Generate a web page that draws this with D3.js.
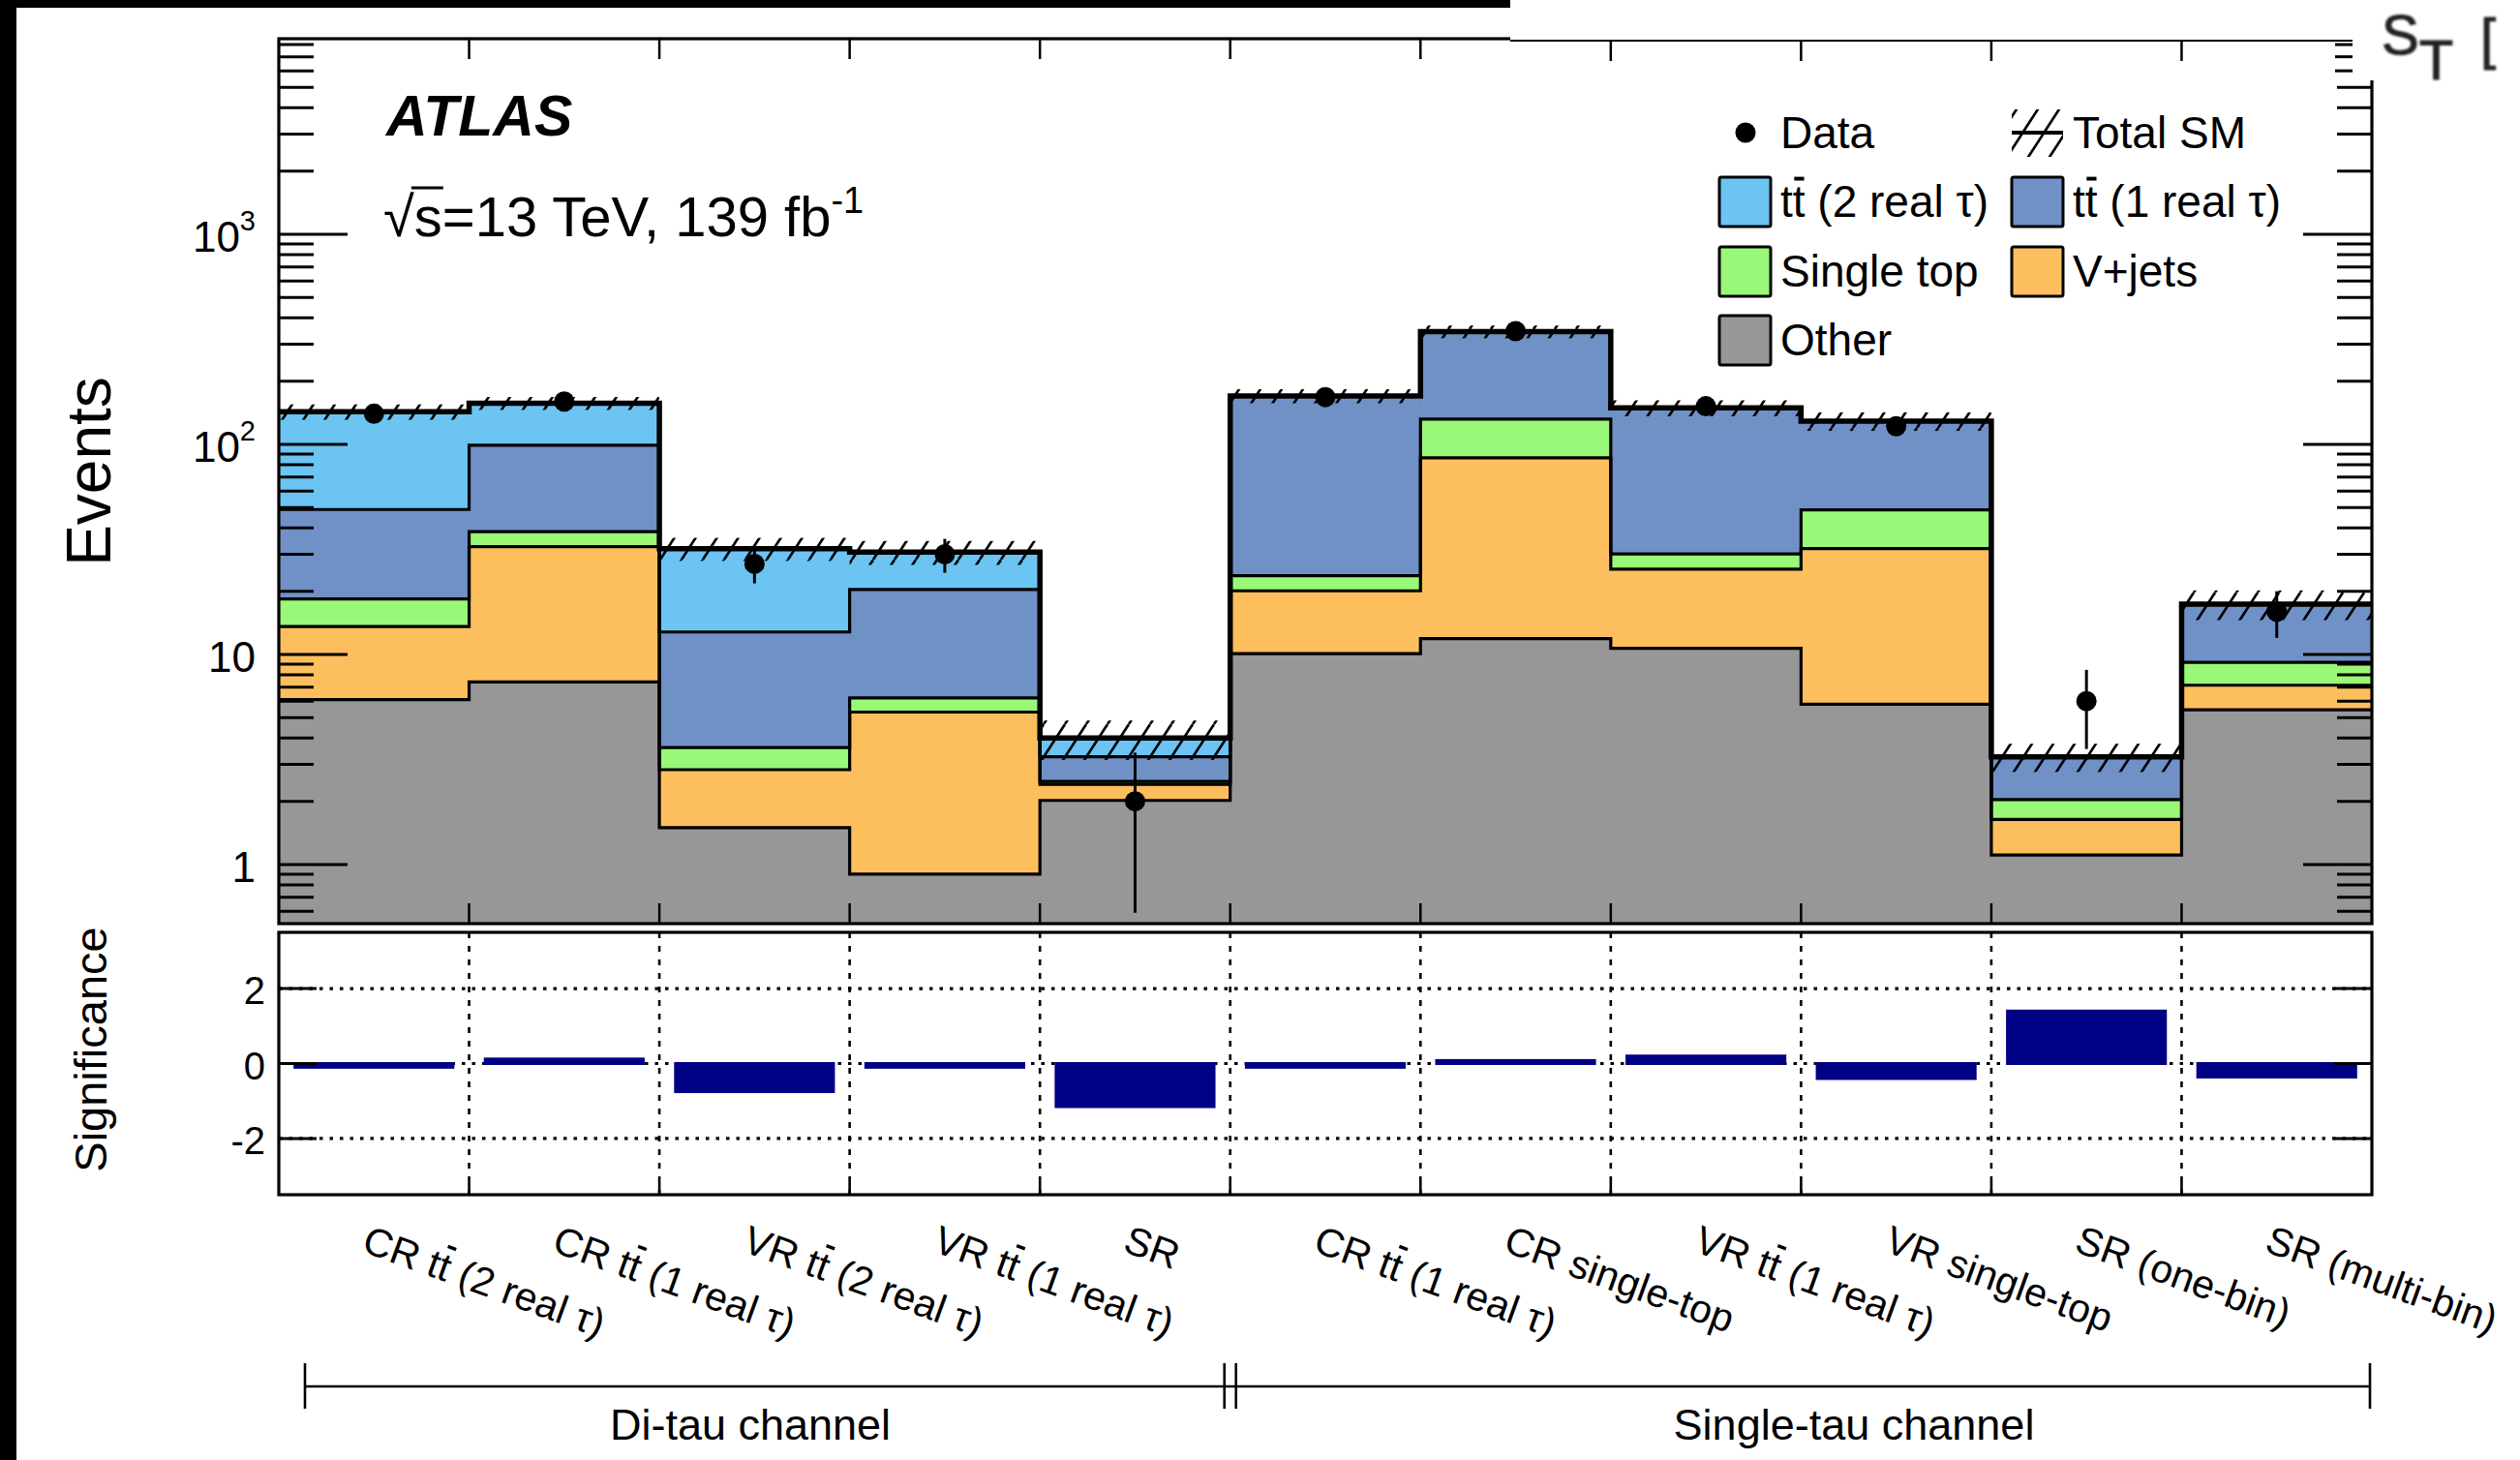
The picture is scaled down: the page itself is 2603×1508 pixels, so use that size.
<!DOCTYPE html>
<html>
<head>
<meta charset="utf-8">
<script src="https://cdn.jsdelivr.net/npm/d3@7"></script>
<style>
  html, body { margin: 0; padding: 0; background: #fff; }
  svg { display: block; }
  text { font-family: "Liberation Sans", Arial, Helvetica, sans-serif; fill: #000; }
</style>
</head>
<body>
<svg id="chart" width="2603" height="1508"></svg>
<script>
// ---- data -------------------------------------------------------------
// region names (U+0304 marks an overlined letter, i.e. t-bar)
const binLabels = [
  "CR tt\u0304 (2 real \u03c4)",
  "CR tt\u0304 (1 real \u03c4)",
  "VR tt\u0304 (2 real \u03c4)",
  "VR tt\u0304 (1 real \u03c4)",
  "SR",
  "CR tt\u0304 (1 real \u03c4)",
  "CR single-top",
  "VR tt\u0304 (1 real \u03c4)",
  "VR single-top",
  "SR (one-bin)",
  "SR (multi-bin)"
];
const channelNames = ["Di-tau channel", "Single-tau channel"];

// background yields per region (stacked, bottom to top)
const other     = [6.1, 7.4, 1.5, 0.9, 2.02, 10.1, 11.9, 10.7, 5.8, 1.11, 5.45];
const vjets     = [7.5, 25.2, 1.33, 4.42, 0.39, 10.0, 74.4, 14.8, 26.1, 0.53, 1.69];
const singleTop = [4.8, 5.8, 0.78, 0.89, 0.08, 3.6, 45.7, 4.6, 16.9, 0.40, 2.04];
const ttbar1    = [30.6, 60.8, 9.19, 14.19, 0.77, 146.3, 212, 119, 80.2, 1.22, 8.2];
const ttbar2    = [94, 57.8, 19.1, 10.3, 0.74, 0, 0, 0, 0, 0, 0];
// total SM uncertainty (absolute)
const totalUnc  = [12, 11, 4, 4, 0.85, 13, 24, 13, 13, 0.5, 2.8];
// observed events and their errors
const observed  = [140, 160, 27, 30, 2, 168, 346, 152, 122, 6, 16];
const obsErr    = [11.8, 12.6, 5.2, 5.5, 1.41, 13.0, 18.6, 12.3, 11.0, 2.45, 4.0];
// significance of data vs. SM per region
const significance = [-0.1, 0.12, -0.75, -0.1, -1.15, -0.1, 0.08, 0.2, -0.4, 1.4, -0.36];

const yMajorTicks = [1, 10, 100, 1000];
const yMajorExp   = [null, null, "2", "3"];
const ratioTicks  = [-2, 0, 2];
const ratioTickLabels = ["-2", "0", "2"];

const sampleKeys   = ["other", "vjets", "singleTop", "ttbar1", "ttbar2"];
const sampleColors = ["#979797", "#fdbf5e", "#99f877", "#7091c6", "#6cc4f2"];

// legend entries
const legendRows = [
  [{type: "data", label: "Data"}, {type: "band", label: "Total SM"}],
  [{type: "box", key: "ttbar2", label: "tt\u0304 (2 real \u03c4)"}, {type: "box", key: "ttbar1", label: "tt\u0304 (1 real \u03c4)"}],
  [{type: "box", key: "singleTop", label: "Single top"}, {type: "box", key: "vjets", label: "V+jets"}],
  [{type: "box", key: "other", label: "Other"}]
];

// ---- layout -------------------------------------------------------------
const svg = d3.select("#chart");
const main  = {left: 288, right: 2450, top: 40, bottom: 954};
const lower = {top: 963, bottom: 1234};
const nBins = binLabels.length;

const x  = d3.scaleLinear().domain([0, nBins]).range([main.left, main.right]);
const y  = d3.scaleLog().domain([0.5236, 8530]).range([main.bottom, main.top]);
const yR = d3.scaleLinear().domain([-3.5, 3.5]).range([lower.bottom, lower.top]);
const yMin = y.domain()[0];
const yy = v => y(Math.max(v, yMin));

const defs = svg.append("defs");
const hatch = defs.append("pattern").attr("id", "hatch")
  .attr("patternUnits", "userSpaceOnUse").attr("width", 22).attr("height", 34);
[-22, 0, 22].forEach(o => hatch.append("line")
  .attr("x1", o).attr("y1", 34).attr("x2", o + 22).attr("y2", 0)
  .attr("stroke", "#000").attr("stroke-width", 2.6));
defs.append("filter").attr("id", "soft").append("feGaussianBlur").attr("stdDeviation", 0.9);
defs.append("clipPath").attr("id", "mainClip").append("rect")
  .attr("x", main.left).attr("y", main.top)
  .attr("width", main.right - main.left).attr("height", main.bottom - main.top);

// page borders
svg.append("rect").attr("x", 0).attr("y", 0).attr("width", 1560).attr("height", 8).attr("fill", "#000");
svg.append("rect").attr("x", 0).attr("y", 0).attr("width", 17).attr("height", 1508).attr("fill", "#000");

// ---- stacked histogram ----------------------------------------------------
const series = {other, vjets, singleTop, ttbar1, ttbar2};
const rows = binLabels.map((_, i) => {
  const r = {bin: i};
  sampleKeys.forEach(k => r[k] = series[k][i]);
  return r;
});
const stacked = d3.stack().keys(sampleKeys)(rows);
const stepPts = layer => {
  const p = layer.map((d, i) => ({x: i, y0: d[0], y1: d[1]}));
  p.push({x: nBins, y0: layer[nBins - 1][0], y1: layer[nBins - 1][1]});
  return p;
};
const area = d3.area().curve(d3.curveStepAfter)
  .x(d => x(d.x)).y0(d => yy(d.y0)).y1(d => yy(d.y1));
const step = d3.line().curve(d3.curveStepAfter).x(d => x(d.x)).y(d => yy(d.y1));

const plot = svg.append("g").attr("clip-path", "url(#mainClip)");
plot.selectAll("path.layer").data(stacked).join("path")
  .attr("class", "layer")
  .attr("d", d => area(stepPts(d)))
  .attr("fill", (d, i) => sampleColors[i]);
plot.selectAll("path.edge").data(stacked).join("path")
  .attr("class", "edge")
  .attr("d", d => step(stepPts(d)))
  .attr("fill", "none").attr("stroke", "#000").attr("stroke-width", 3.2);

const totals = stacked[stacked.length - 1].map(d => d[1]);

// uncertainty band
plot.selectAll("rect.band").data(totals).join("rect")
  .attr("class", "band")
  .attr("x", (d, i) => x(i)).attr("width", (d, i) => x(i + 1) - x(i))
  .attr("y", (d, i) => yy(d + totalUnc[i]))
  .attr("height", (d, i) => yy(d - totalUnc[i]) - yy(d + totalUnc[i]))
  .attr("fill", "url(#hatch)");

// total SM line
plot.append("path")
  .attr("d", step(stepPts(stacked[stacked.length - 1])))
  .attr("fill", "none").attr("stroke", "#000").attr("stroke-width", 5.5);

// data
const dataG = svg.append("g");
dataG.selectAll("line.err").data(observed).join("line")
  .attr("class", "err")
  .attr("x1", (d, i) => x(i + 0.5)).attr("x2", (d, i) => x(i + 0.5))
  .attr("y1", (d, i) => yy(d - obsErr[i])).attr("y2", (d, i) => yy(d + obsErr[i]))
  .attr("stroke", "#000").attr("stroke-width", 3);
dataG.selectAll("circle").data(observed).join("circle")
  .attr("cx", (d, i) => x(i + 0.5)).attr("cy", d => yy(d)).attr("r", 10.5)
  .attr("fill", "#000");

// ---- main axes ---------------------------------------------------------
const minorTicks = [];
[0.1, 1, 10, 100, 1000].forEach(dec => {
  for (let m = 2; m <= 9; m++) {
    const v = dec * m;
    if (v > yMin && v < y.domain()[1]) minorTicks.push(v);
  }
});
const tickLines = (g, vals, len, side) => {
  g.selectAll(null).data(vals).join("line")
    .attr("x1", side === "left" ? main.left : main.right)
    .attr("x2", side === "left" ? main.left + len : main.right - len)
    .attr("y1", d => y(d)).attr("y2", d => y(d))
    .attr("stroke", "#000").attr("stroke-width", 3);
};
const axG = svg.append("g");
tickLines(axG, yMajorTicks, 71, "left");
tickLines(axG, minorTicks, 36, "left");
tickLines(axG, yMajorTicks, 71, "right");
tickLines(axG, minorTicks, 36, "right");
// bin edge ticks
const innerEdges = d3.range(1, nBins);
axG.selectAll(null).data(innerEdges).join("line")
  .attr("x1", d => x(d)).attr("x2", d => x(d))
  .attr("y1", main.bottom).attr("y2", main.bottom - 21)
  .attr("stroke", "#000").attr("stroke-width", 2.5);
axG.selectAll(null).data(innerEdges).join("line")
  .attr("x1", d => x(d)).attr("x2", d => x(d))
  .attr("y1", main.top).attr("y2", main.top + 21)
  .attr("stroke", "#000").attr("stroke-width", 2.5);

// y tick labels
yMajorTicks.forEach((v, i) => {
  const t = axG.append("text").attr("x", 264).attr("y", y(v) + 18)
    .attr("text-anchor", "end").attr("font-size", 44);
  t.append("tspan").text(v >= 100 ? "10" : String(v));
  if (yMajorExp[i]) t.append("tspan").attr("font-size", 29).attr("dy", -22).text(yMajorExp[i]);
});

svg.append("rect").attr("x", main.left).attr("y", main.top)
  .attr("width", main.right - main.left).attr("height", main.bottom - main.top)
  .attr("fill", "none").attr("stroke", "#000").attr("stroke-width", 3.2);

svg.append("text").attr("transform", "translate(114,487) rotate(-90)")
  .attr("text-anchor", "middle").attr("font-size", 64).text("Events");

// ---- ratio panel -------------------------------------------------------
const rG = svg.append("g");
rG.selectAll(null).data(ratioTicks).join("line")
  .attr("x1", main.left).attr("x2", main.right)
  .attr("y1", d => yR(d)).attr("y2", d => yR(d))
  .attr("stroke", "#000").attr("stroke-width", 3.2).attr("stroke-dasharray", "3.5,7");
rG.selectAll(null).data(innerEdges).join("line")
  .attr("x1", d => x(d)).attr("x2", d => x(d))
  .attr("y1", lower.top).attr("y2", lower.bottom)
  .attr("stroke", "#000").attr("stroke-width", 2.6).attr("stroke-dasharray", "6,8");
rG.selectAll("rect.sig").data(significance).join("rect")
  .attr("class", "sig")
  .attr("x", (d, i) => x(i + 0.085)).attr("width", (d, i) => x(i + 0.915) - x(i + 0.085))
  .attr("y", d => yR(Math.max(0, d))).attr("height", d => Math.abs(yR(d) - yR(0)))
  .attr("fill", "#000085").attr("stroke", "#000085").attr("stroke-width", 3);
// ticks
rG.selectAll(null).data(ratioTicks).join("line")
  .attr("x1", main.left).attr("x2", main.left + 39)
  .attr("y1", d => yR(d)).attr("y2", d => yR(d))
  .attr("stroke", "#000").attr("stroke-width", 3);
rG.selectAll(null).data(ratioTicks).join("line")
  .attr("x1", main.right).attr("x2", main.right - 39)
  .attr("y1", d => yR(d)).attr("y2", d => yR(d))
  .attr("stroke", "#000").attr("stroke-width", 3);
rG.selectAll(null).data(innerEdges).join("line")
  .attr("x1", d => x(d)).attr("x2", d => x(d))
  .attr("y1", lower.bottom).attr("y2", lower.bottom - 13)
  .attr("stroke", "#000").attr("stroke-width", 2.6);
rG.selectAll(null).data(ratioTicks).join("text")
  .attr("x", 274).attr("y", d => yR(d) + 16)
  .attr("text-anchor", "end").attr("font-size", 40)
  .text((d, i) => ratioTickLabels[i]);
svg.append("rect").attr("x", main.left).attr("y", lower.top)
  .attr("width", main.right - main.left).attr("height", lower.bottom - lower.top)
  .attr("fill", "none").attr("stroke", "#000").attr("stroke-width", 3.2);
svg.append("text").attr("transform", "translate(110,1084) rotate(-90)")
  .attr("text-anchor", "middle").attr("font-size", 47).text("Significance");

// ---- text helpers -------------------------------------------------------
function parseBar(str) {
  const idx = str.indexOf("\u0304");
  if (idx < 0) return {text: str, bar: -1};
  return {text: str.slice(0, idx) + str.slice(idx + 1), bar: idx - 1};
}
function writeLabel(g, str, fs, xPos, yPos) {
  const p = parseBar(str);
  const t = g.append("text").attr("x", xPos).attr("y", yPos).attr("font-size", fs).text(p.text);
  if (p.bar >= 0) {
    const ext = t.node().getExtentOfChar(p.bar);
    g.append("rect")
      .attr("x", ext.x + ext.width * 0.12).attr("width", ext.width * 0.8)
      .attr("y", yPos - fs * 0.9).attr("height", fs * 0.085).attr("fill", "#000");
  }
  return t;
}

// region labels
binLabels.forEach((lab, i) => {
  const g = svg.append("g")
    .attr("transform", `translate(${x(i + 0.5) - 14},1292) rotate(20)`);
  writeLabel(g, lab, 41, 0, 0);
});

// channel brackets
const brG = svg.append("g").attr("stroke", "#000").attr("stroke-width", 2.6);
brG.append("line").attr("x1", 315).attr("x2", 2448).attr("y1", 1432).attr("y2", 1432);
[315, x(5) - 6, x(5) + 6, 2448].forEach(px => brG.append("line")
  .attr("x1", px).attr("x2", px).attr("y1", 1408).attr("y2", 1455));
const channelCenters = [775, 1915];
channelNames.forEach((name, i) => {
  svg.append("text").attr("x", channelCenters[i]).attr("y", 1487).attr("text-anchor", "middle")
    .attr("font-size", 45).text(name);
});

// ---- labels in the plot --------------------------------------------------
svg.append("text").attr("x", 399).attr("y", 140).attr("font-size", 59)
  .attr("font-weight", "bold").attr("font-style", "italic").text("ATLAS");

const lumi = svg.append("text").attr("x", 396).attr("y", 244).attr("font-size", 58);
lumi.append("tspan").text("\u221a");
lumi.append("tspan").text("s=13 TeV, 139 fb");
lumi.append("tspan").attr("font-size", 38).attr("dy", -24).text("-1");
{
  const r = lumi.node().getExtentOfChar(0);
  const s = lumi.node().getExtentOfChar(1);
  svg.append("line").attr("x1", r.x + r.width - 3).attr("x2", s.x + s.width + 1)
    .attr("y1", 244 - 58 * 0.86).attr("y2", 244 - 58 * 0.86)
    .attr("stroke", "#000").attr("stroke-width", 3);
}

// legend
const legX = [1776, 2078];
const legRowY = [137, 208, 280, 351];
legendRows.forEach((row, ri) => {
  row.forEach((e, ci) => {
    const bx = legX[ci], cy = legRowY[ri];
    if (e.type === "data") {
      svg.append("circle").attr("cx", bx + 27).attr("cy", cy).attr("r", 10.5).attr("fill", "#000");
    } else if (e.type === "band") {
      svg.append("rect").attr("x", bx).attr("y", cy - 24).attr("width", 53).attr("height", 49)
        .attr("fill", "url(#hatch)");
      svg.append("line").attr("x1", bx).attr("x2", bx + 53).attr("y1", cy).attr("y2", cy)
        .attr("stroke", "#000").attr("stroke-width", 4);
    } else {
      svg.append("rect").attr("x", bx).attr("y", cy - 25).attr("width", 53).attr("height", 51)
        .attr("rx", 2).attr("fill", sampleColors[sampleKeys.indexOf(e.key)])
        .attr("stroke", "#000").attr("stroke-width", 3);
    }
    writeLabel(svg.append("g"), e.label, 46, bx + 63, cy + 16);
  });
});

// ---- neighbouring panel edge at top right ---------------------------------
svg.append("rect").attr("x", 1560).attr("y", 0).attr("width", 1043).attr("height", 83).attr("fill", "#fff");
svg.append("line").attr("x1", 1560).attr("x2", 2430).attr("y1", 42).attr("y2", 42)
  .attr("stroke", "#000").attr("stroke-width", 2);
svg.selectAll(null).data(innerEdges.filter(e => x(e) > 1560)).join("line")
  .attr("x1", d => x(d)).attr("x2", d => x(d)).attr("y1", 42).attr("y2", 63)
  .attr("stroke", "#000").attr("stroke-width", 2.5);
svg.selectAll(null).data([6000, 7000, 8000]).join("line")
  .attr("x1", 2412).attr("x2", 2430).attr("y1", d => y(d)).attr("y2", d => y(d))
  .attr("stroke", "#000").attr("stroke-width", 3);
const st = svg.append("text").attr("x", 2460).attr("y", 56).attr("font-size", 58)
  .attr("filter", "url(#soft)").style("fill", "#222")
  .attr("stroke", "#222").attr("stroke-width", 1.1);
st.append("tspan").text("S");
st.append("tspan").attr("dy", 26).text("T");
st.append("tspan").attr("x", 2562).attr("dy", -22).text("[");
</script>
</body>
</html>
